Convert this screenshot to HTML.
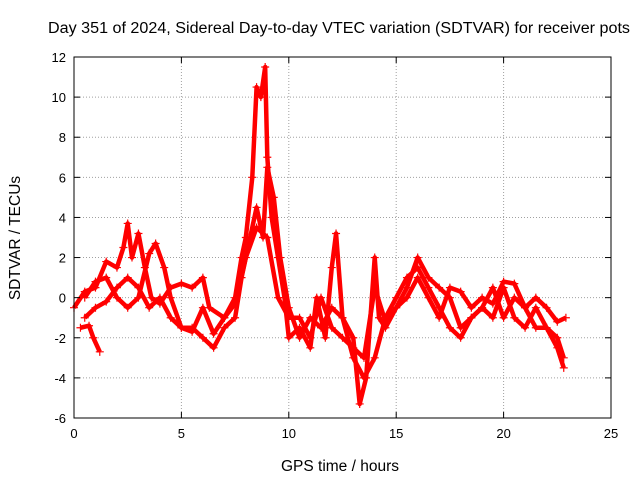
<!DOCTYPE html>
<html><head><meta charset="utf-8"><style>
body{margin:0;background:#fff}
svg text{font-family:"Liberation Sans",sans-serif;fill:#000}
</style></head><body>
<svg width="640" height="480">
<rect width="640" height="480" fill="#fff"/>
<g id="grid"></g><g id="series"></g><g id="axes"></g>
<text x="339" y="33" text-anchor="middle" font-size="15.5" textLength="582" lengthAdjust="spacingAndGlyphs">Day 351 of 2024, Sidereal Day-to-day VTEC variation (SDTVAR) for receiver pots</text>
<text x="340" y="471" text-anchor="middle" font-size="15.5">GPS time / hours</text>
<text transform="translate(20,238) rotate(-90)" text-anchor="middle" font-size="15.5">SDTVAR / TECUs</text>
</svg>
<script>
const xTicks=[0,5,10,15,20,25];
const yTicks=[-6,-4,-2,0,2,4,6,8,10,12];
const s1=[[0,-0.5],[0.5,0.3],[1,0.5],[1.5,1.8],[2,1.5],[2.3,2.5],[2.5,3.7],[2.7,2],[3,3.2],[3.3,1.5],[3.6,0],[4,-0.3],[4.5,0.5],[5,0.7],[5.5,0.5],[6,1],[6.3,-0.5],[7,-1],[7.5,0],[7.8,2],[8,3],[8.3,6],[8.5,10.5],[8.7,10],[8.9,11.5],[9,7],[9.2,4],[9.5,2],[9.8,0],[10,-2],[10.5,-1.5],[11,-2.5],[11.3,0],[11.7,-2],[12,1.5],[12.2,3.2],[12.5,-1],[13,-2],[13.3,-5.3],[13.6,-4],[14,2],[14.2,-1],[14.5,-1.5],[15,-0.5],[15.5,0.5],[16,2],[16.5,1],[17,0.5],[17.5,0],[18,-1.5],[18.5,-1],[19,-0.5],[19.5,0.5],[20,-1],[20.5,0],[21,-0.5],[21.5,-1.5],[22,-1.5],[22.5,-2.5],[22.8,-3.5]];
const s2=[[0.3,-1.5],[0.7,-1.4],[0.9,-2],[1.2,-2.7]];
const s3=[[0.5,0],[1,0.8],[1.5,1],[2,0],[2.5,-0.5],[3,0],[3.5,2.2],[3.8,2.7],[4.2,1.5],[4.5,0],[5,-1.5],[5.5,-1.5],[6,-2],[6.5,-2.5],[7,-1.5],[7.5,-1],[7.8,1],[8.2,3],[8.5,4.5],[8.8,3],[9,6.5],[9.3,5],[9.6,2],[10,-0.5],[10.5,-2],[11,-1],[11.5,-1.5],[12,-0.5],[12.5,-1],[13,-3],[13.5,-4],[14,-3],[14.5,-1],[15,0],[15.5,1],[16,1.5],[16.5,0.5],[17,-0.5],[17.5,-1.5],[18,-2],[18.5,-1],[19,-0.5],[19.5,-1],[20,0.5],[20.5,-1],[21,-1.5],[21.5,-0.5],[22,-1.5],[22.5,-2],[22.8,-3]];
const s4=[[0.5,-1],[1,-0.5],[1.5,-0.2],[2,0.5],[2.5,1],[3,0.5],[3.5,-0.5],[4,0],[4.5,-1],[5,-1.5],[5.5,-1.7],[6,-0.5],[6.5,-1.8],[7,-1],[7.5,-0.3],[8,2],[8.5,3.5],[9,3],[9.5,0],[10,-1],[10.5,-1],[11,-2],[11.5,0],[12,-1.5],[12.5,-2],[13,-2.5],[13.5,-3],[14,0.5],[14.5,-1.2],[15,-0.5],[15.5,0],[16,1],[16.5,0],[17,-1],[17.5,0.5],[18,0.3],[18.5,-0.5],[19,0],[19.5,-0.3],[20,0.8],[20.5,0.7],[21,-0.5],[21.5,0],[22,-0.5],[22.5,-1.2],[22.9,-1]];
const seriesList=[s1,s2,s3,s4];
const L=74,R=611,T=57,B=418;
const X=v=>L+(v-0)/25*(R-L);
const Y=v=>B-(v+6)/18*(B-T);
const NS="http://www.w3.org/2000/svg";
function mk(tag,attrs,parent){const e=document.createElementNS(NS,tag);for(const k in attrs)e.setAttribute(k,attrs[k]);parent.appendChild(e);return e;}
const g=document.getElementById('grid'),ax=document.getElementById('axes'),sg=document.getElementById('series');
xTicks.forEach(t=>{
 const l=mk('line',{x1:X(t),x2:X(t),y1:T,y2:B,stroke:'#a0a0a0','stroke-dasharray':'1,2'},g);
 
 
 const tx=mk('text',{x:X(t),y:B+20,'text-anchor':'middle','font-size':13},ax);tx.textContent=t;
 
 
 mk('line',{x1:X(t),x2:X(t),y1:B,y2:B-6,stroke:'#000'},ax);
 mk('line',{x1:X(t),x2:X(t),y1:T,y2:T+6,stroke:'#000'},ax);
});
yTicks.forEach(t=>{
 const l=mk('line',{x1:L,x2:R,y1:Y(t),y2:Y(t),stroke:'#a0a0a0','stroke-dasharray':'1,2'},g);
 
 
 const tx=mk('text',{x:L-8,y:Y(t)+5,'text-anchor':'end','font-size':13},ax);tx.textContent=t;
 
 
 mk('line',{x1:L,x2:L+6,y1:Y(t),y2:Y(t),stroke:'#000'},ax);
 mk('line',{x1:R,x2:R-6,y1:Y(t),y2:Y(t),stroke:'#000'},ax);
});
const frame=mk('rect',{x:L,y:T,width:R-L,height:B-T,fill:'none',stroke:'#000'},ax);


seriesList.forEach((s,i)=>{
 const p=mk('polyline',{points:s.map(d=>X(d[0])+','+Y(d[1])).join(' '),fill:'none',stroke:'#ff0000','stroke-width':4.5,'stroke-linejoin':'round'},sg);
 
 
 s.forEach(d=>{
  const m=mk('path',{d:`M${X(d[0])-4},${Y(d[1])}h8M${X(d[0])},${Y(d[1])-4}v8`,stroke:'#ff0000','stroke-width':1.2},sg);
  
  
 });
});
</script>
</body></html>
